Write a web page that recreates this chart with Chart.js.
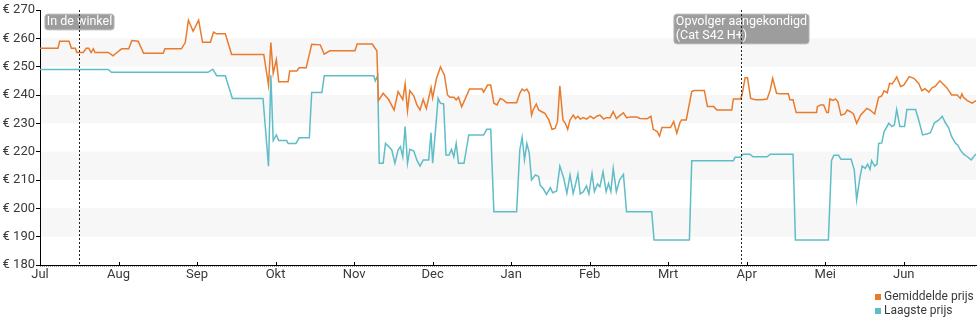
<!DOCTYPE html>
<html>
<head>
<meta charset="utf-8">
<script src="https://cdn.jsdelivr.net/npm/chart.js@4.4.1/dist/chart.umd.min.js"></script>
<style>
html,body{margin:0;padding:0;background:#fff;}
#wrap{width:980px;height:325px;position:relative;}
</style>
</head>
<body>
<div id="wrap"><canvas id="c" width="980" height="325"></canvas></div>
<script>
// Category labels (month index 0 = Jul)
const months = ['Jul','Aug','Sep','Okt','Nov','Dec','Jan','Feb','Mrt','Apr','Mei','Jun'];
const seriesNames = ['Gemiddelde prijs','Laagste prijs'];
const priceMin = 180, priceMax = 270, priceStep = 10;
const shadedBands = [[250,260],[230,240],[210,220],[190,200]];
const events = [
  {m:0.50, text:['In de winkel']},
  {m:8.93, text:['Opvolger aangekondigd','(Cat S42 H+)']}
];

// Gemiddelde prijs: [month position, price]
const avgSeries = [
[0.00,256.5],[0.23,256.5],[0.25,259],[0.37,259],[0.40,256.5],[0.45,256.5],[0.47,255],[0.55,255],
[0.59,256.5],[0.62,256.5],[0.65,255],[0.68,256.3],[0.70,255],[0.87,255],[0.93,253.8],[0.98,255],
[1.04,256.3],[1.13,256.3],[1.17,259.2],[1.25,259],[1.32,254.7],[1.57,254.7],[1.59,256.3],[1.80,256.3],
[1.85,258.5],[1.89,266.4],[1.95,262.5],[2.02,266.4],[2.07,258.6],[2.17,258.6],[2.21,262.2],[2.25,261.6],
[2.36,261.6],[2.44,254.3],[2.85,254.3],[2.91,243.5],[2.94,258.5],[2.97,247.6],[3.01,252.5],[3.04,244.7],
[3.16,244.7],[3.18,248.5],[3.27,248.5],[3.30,249.6],[3.39,249.6],[3.46,257.9],[3.57,257.7],[3.62,254.4],
[3.69,255.6],[4.01,255.6],[4.04,258],[4.23,258],[4.29,255.6],[4.31,238],[4.37,240.6],[4.44,238.4],
[4.51,234.7],[4.56,241.2],[4.62,238.4],[4.65,243.9],[4.68,234.4],[4.71,241.5],[4.76,239.7],[4.80,236.5],
[4.84,234.7],[4.88,238.4],[4.92,235.2],[4.98,242.6],[5.00,239],[5.05,245.9],[5.10,249.9],[5.15,247],
[5.19,240],[5.22,239.2],[5.27,239.2],[5.30,238.3],[5.33,239.2],[5.37,235.8],[5.47,242.1],[5.63,242.1],
[5.65,241],[5.70,243.5],[5.74,243.5],[5.78,237.1],[5.82,236.5],[5.86,238.8],[5.90,238.3],[5.94,237.3],
[6.07,237.3],[6.11,240.6],[6.14,242.1],[6.17,241.5],[6.20,242.1],[6.23,240.6],[6.26,232.9],[6.28,234.7],
[6.32,236.8],[6.35,234.7],[6.39,234.1],[6.43,233.5],[6.48,231.2],[6.52,227.9],[6.56,228.2],[6.59,230.6],
[6.62,243.2],[6.66,231.2],[6.69,230],[6.72,227.9],[6.75,231.2],[6.79,232.9],[6.82,231.7],[6.85,232.5],
[6.88,231.5],[6.92,232],[6.96,231.5],[7.01,232.5],[7.05,231.7],[7.09,232.5],[7.13,232.9],[7.18,231.5],
[7.21,232],[7.26,232],[7.30,234.1],[7.34,231.7],[7.39,232.9],[7.43,233.7],[7.47,232],[7.52,232.2],
[7.60,232.2],[7.64,231.7],[7.73,231.6],[7.78,232.5],[7.81,227.9],[7.86,227.1],[7.89,225.5],[7.92,228.5],
[8.03,228.5],[8.07,230.6],[8.11,226.5],[8.15,230.3],[8.17,231.2],[8.23,231.2],[8.30,241.2],[8.33,241.6],
[8.46,241.6],[8.50,235.9],[8.58,235.9],[8.62,234.7],[8.81,234.7],[8.83,238.6],[8.92,238.6],[8.94,240],
[8.98,246.1],[9.01,246.1],[9.05,238.8],[9.11,238.3],[9.19,238.3],[9.26,238.6],[9.30,241.8],[9.33,245.9],
[9.38,240.6],[9.43,240.4],[9.53,240.4],[9.55,238.3],[9.59,238.3],[9.63,233.8],[9.89,233.8],[9.90,235.9],
[9.94,236.5],[9.98,236.5],[10.02,233.8],[10.04,233.8],[10.06,238.6],[10.10,238.1],[10.13,238.6],[10.16,237.7],
[10.20,232.9],[10.25,233.3],[10.28,234.7],[10.32,234.1],[10.36,233.3],[10.40,230],[10.45,232.9],[10.49,234.1],
[10.53,235.3],[10.57,234.7],[10.63,233.3],[10.68,239.2],[10.72,239.7],[10.75,241.5],[10.79,240.8],[10.82,244.1],
[10.85,243.9],[10.88,245],[10.91,246.4],[10.96,243],[11.00,243.5],[11.07,246.5],[11.13,245.9],[11.19,244.1],
[11.23,241.5],[11.27,242.2],[11.32,241],[11.36,242.5],[11.40,243],[11.46,245],[11.51,243.6],[11.55,242.5],
[11.61,240],[11.68,240],[11.72,238.8],[11.74,240.4],[11.76,239.2],[11.81,238],[11.87,237.1],[11.92,238]
];

// Laagste prijs: [month position, price]
const lowSeries = [
[0.00,249],[0.87,249],[0.91,248],[2.14,248],[2.20,249.1],[2.25,246.8],[2.36,246.8],[2.45,238.8],
[2.84,238.8],[2.91,214.9],[2.94,247],[2.97,223.9],[3.01,225.9],[3.04,223.9],[3.14,223.9],[3.16,222.9],
[3.26,222.9],[3.30,224.9],[3.43,224.9],[3.46,240.9],[3.59,240.9],[3.62,246.8],[4.25,246.8],[4.27,245],
[4.30,246.8],[4.32,215.9],[4.37,215.9],[4.40,222.9],[4.44,221.8],[4.48,220.6],[4.52,215.9],[4.56,220.6],
[4.59,221.8],[4.62,218.2],[4.65,228.9],[4.68,215.9],[4.71,220.8],[4.76,220.2],[4.80,217],[4.84,214.9],
[4.88,217.1],[4.95,217.1],[4.98,226.7],[5.00,215.9],[5.03,225.3],[5.07,238.8],[5.10,237.1],[5.14,236.9],
[5.17,218.8],[5.21,218.8],[5.24,220.8],[5.27,218.2],[5.30,222.9],[5.33,215.9],[5.40,215.9],[5.46,225.9],
[5.65,225.9],[5.69,227.9],[5.74,227.9],[5.78,198.8],[6.07,198.8],[6.11,220.6],[6.14,225.1],[6.17,217.1],
[6.20,222.9],[6.23,219.6],[6.26,210],[6.31,211.8],[6.35,211.2],[6.37,208.1],[6.41,206.9],[6.45,204.9],
[6.50,207.3],[6.53,205.5],[6.58,206.1],[6.62,214.9],[6.67,210.6],[6.71,205.3],[6.75,211.8],[6.79,205.3],
[6.82,208.5],[6.85,212.1],[6.88,205.1],[6.92,205.9],[6.96,207.9],[6.99,205.1],[7.03,212.3],[7.06,205.9],
[7.10,208.6],[7.13,207.6],[7.17,212.9],[7.21,205.9],[7.24,208.8],[7.27,205.9],[7.30,214.1],[7.34,205.9],
[7.38,210],[7.43,212],[7.47,198.8],[7.79,198.8],[7.82,188.8],[8.27,188.8],[8.30,216.8],[8.83,216.8],
[8.85,218],[8.92,218],[8.95,219.1],[9.04,219.1],[9.08,218.2],[9.26,218.2],[9.30,219.1],[9.59,219.1],
[9.62,188.8],[10.04,188.8],[10.08,216.9],[10.11,218.7],[10.17,218.7],[10.20,217.3],[10.33,217.3],[10.37,213.5],
[10.40,203],[10.44,210.6],[10.47,214.9],[10.51,214.1],[10.54,215.6],[10.57,213.7],[10.59,216.8],[10.63,214.9],
[10.66,215.6],[10.68,222.9],[10.72,223.1],[10.75,227.1],[10.81,230],[10.85,228.9],[10.88,229.4],[10.91,234.9],
[10.95,228.9],[11.01,228.9],[11.04,234.9],[11.15,234.9],[11.19,231.2],[11.24,225.9],[11.29,226.2],[11.34,226.7],
[11.39,230.2],[11.44,231],[11.49,232.5],[11.53,230.2],[11.57,228.5],[11.61,225.3],[11.66,222.9],[11.69,222.3],
[11.72,220.6],[11.76,219.2],[11.81,218.2],[11.86,217.1],[11.89,218.2],[11.92,219.2]
];

const avgColor = '#ea7b2c';
const lowColor = '#5fbdc7';
const textColor = '#3a3a3a';
const FONT = 'Roboto, "Noto Sans", sans-serif';

function toPoints(arr){ return arr.map(p => ({x:p[0], y:p[1]})); }

const decor = {
  id: 'decor',
  beforeDatasetsDraw(chart){
    const {ctx, chartArea:a, scales:{y}} = chart;
    ctx.save();
    ctx.fillStyle = '#f7f7f7';
    shadedBands.forEach(b => {
      const y1 = y.getPixelForValue(b[1]), y0 = y.getPixelForValue(b[0]);
      ctx.fillRect(a.left+1, y1, a.right - a.left - 1, y0 - y1);
    });
    ctx.restore();
  },
  afterDatasetsDraw(chart){
    const {ctx, chartArea:a, scales:{x}} = chart;
    ctx.save();
    // x-axis inward ticks + dotted line below
    ctx.strokeStyle = '#000'; ctx.lineWidth = 1;
    months.forEach((m,i) => {
      const px = Math.round(x.getPixelForValue(i)) + 0.5;
      ctx.beginPath(); ctx.moveTo(px, a.bottom - 3); ctx.lineTo(px, a.bottom); ctx.stroke();
    });
    ctx.strokeStyle = '#999'; ctx.setLineDash([1,1]);
    ctx.beginPath(); ctx.moveTo(a.left, a.bottom + 1.5); ctx.lineTo(a.right, a.bottom + 1.5); ctx.stroke();
    ctx.setLineDash([]);
    // events
    ctx.font = '12.5px ' + FONT;
    ctx.textBaseline = 'top';
    events.forEach(ev => {
      const px = Math.round(x.getPixelForValue(ev.m)) + 0.5;
      const w = Math.max(...ev.text.map(t => ctx.measureText(t).width)) + 4;
      const h = ev.text.length * 14 + 2;
      const bx = px - w/2, by = a.top + 4;
      ctx.fillStyle = 'rgba(140,140,140,0.85)';
      ctx.strokeStyle = 'rgba(200,200,200,0.9)';
      ctx.beginPath();
      ctx.roundRect(bx, by, w, h, 3);
      ctx.fill(); ctx.stroke();
      ctx.fillStyle = '#fff';
      ev.text.forEach((t,i) => ctx.fillText(t, bx + 2, by + 1.5 + i*14));
      ctx.strokeStyle = '#222'; ctx.setLineDash([2,2]);
      ctx.beginPath(); ctx.moveTo(px, a.top); ctx.lineTo(px, a.bottom); ctx.stroke();
      ctx.setLineDash([]);
    });
    // legend
    const colors = [avgColor, lowColor];
    ctx.font = '12px ' + FONT;
    ctx.textBaseline = 'middle';
    seriesNames.forEach((n,i) => {
      const cy = 297 + i*14;
      ctx.fillStyle = colors[i];
      ctx.fillRect(875, cy - 3, 6, 6);
      ctx.fillStyle = textColor;
      ctx.fillText(n, 884, cy);
    });
    ctx.restore();
  }
};

new Chart(document.getElementById('c'), {
  type: 'line',
  data: {
    datasets: [
      {label: seriesNames[0], data: toPoints(avgSeries), borderColor: avgColor, borderWidth: 1.5, pointRadius: 0, tension: 0, fill: false},
      {label: seriesNames[1], data: toPoints(lowSeries), borderColor: lowColor, borderWidth: 1.5, pointRadius: 0, tension: 0, fill: false}
    ]
  },
  options: {
    responsive: false,
    animation: false,
    events: [],
    layout: {padding: {top: 10, right: 4, left: 0, bottom: 0}},
    plugins: {legend: {display: false}, tooltip: {enabled: false}},
    scales: {
      x: {
        type: 'linear', min: 0, max: 11.92,
        afterBuildTicks: s => { s.ticks = months.map((_, i) => ({value: i})); },
        afterFit: s => { s.height = 60; },
        ticks: {callback: v => months[v] || '', color: textColor, font: {family: FONT, size: 13}, padding: 2, maxRotation: 0, autoSkip: false},
        grid: {drawOnChartArea: false, drawTicks: false},
        border: {color: '#000', width: 1}
      },
      y: {
        min: priceMin, max: priceMax,
        afterFit: s => { s.width = 40; },
        ticks: {stepSize: priceStep, callback: v => '€ ' + v, color: textColor, font: {family: FONT, size: 13}, padding: 1},
        grid: {drawOnChartArea: false, drawTicks: true, tickLength: 4, color: '#000'},
        border: {color: '#000', width: 1}
      }
    }
  },
  plugins: [decor]
});
</script>
</body>
</html>
